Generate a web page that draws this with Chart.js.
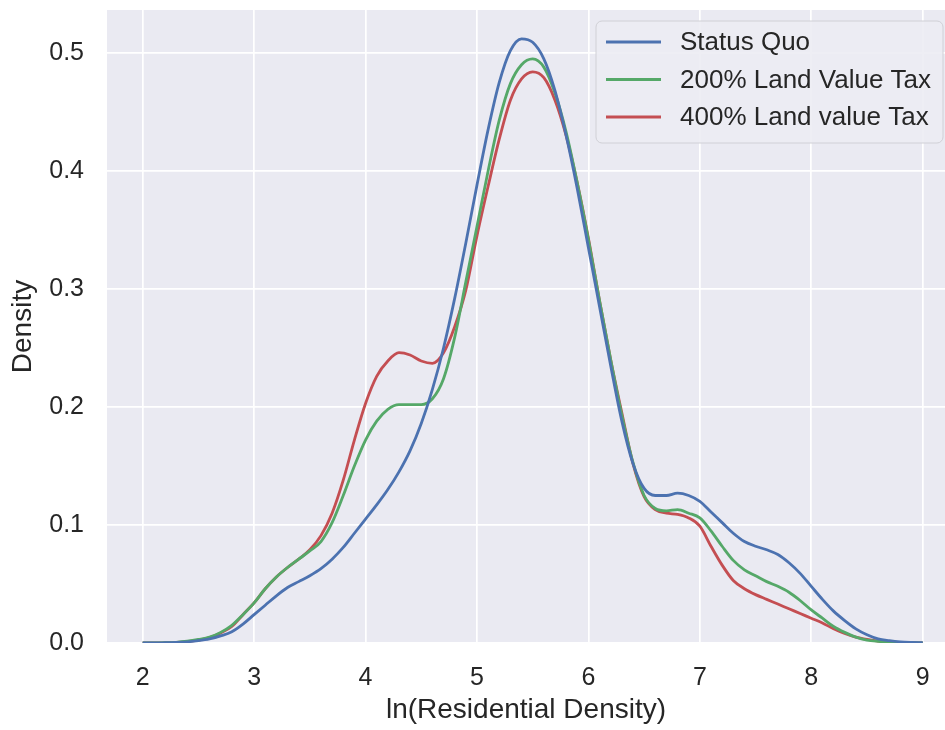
<!DOCTYPE html>
<html lang="en">
<head>
    <meta charset="UTF-8">
    <title>Residential Density KDE</title>
    <script src="https://cdn.jsdelivr.net/npm/chart.js"></script>
    <style>
        html, body { margin: 0; padding: 0; background: #ffffff; }
        canvas { display: block; }
    </style>
</head>
<body>
    <canvas id="myChart" width="945" height="730"></canvas>

    <script>
        const xValues = [2.0, 2.1, 2.2, 2.3, 2.4, 2.5, 2.6, 2.7, 2.8, 2.9,
                         3.0, 3.1, 3.2, 3.3, 3.4, 3.5, 3.6, 3.7, 3.8, 3.9,
                         4.0, 4.1, 4.2, 4.3, 4.4, 4.5, 4.6, 4.7, 4.8, 4.9,
                         5.0, 5.1, 5.2, 5.3, 5.4, 5.5, 5.6, 5.7, 5.8, 5.9,
                         6.0, 6.1, 6.2, 6.3, 6.4, 6.5, 6.6, 6.7, 6.8, 6.9,
                         7.0, 7.1, 7.2, 7.3, 7.4, 7.5, 7.6, 7.7, 7.8, 7.9,
                         8.0, 8.1, 8.2, 8.3, 8.4, 8.5, 8.6, 8.7, 8.8, 8.9, 9.0];

        const statusQuo = [0, 0, 0.0002, 0.0005, 0.001, 0.002, 0.0035, 0.006, 0.0095, 0.016,
                           0.024, 0.032, 0.040, 0.047, 0.052, 0.057, 0.063, 0.071, 0.081, 0.093,
                           0.105, 0.117, 0.130, 0.145, 0.163, 0.186, 0.215, 0.250, 0.292, 0.339,
                           0.388, 0.435, 0.475, 0.502, 0.512, 0.509, 0.495, 0.468, 0.430, 0.385,
                           0.335, 0.285, 0.235, 0.188, 0.152, 0.131, 0.125, 0.125, 0.127, 0.125,
                           0.120, 0.111, 0.102, 0.093, 0.086, 0.082, 0.079, 0.075, 0.068, 0.059,
                           0.048, 0.037, 0.027, 0.019, 0.012, 0.007, 0.0035, 0.002, 0.001, 0.0005, 0.0002];

        const lvt200 = [0, 0, 0.0002, 0.0006, 0.0015, 0.003, 0.005, 0.009, 0.015, 0.024,
                        0.034, 0.046, 0.056, 0.064, 0.071, 0.078, 0.086, 0.102, 0.125, 0.150,
                        0.172, 0.188, 0.198, 0.202, 0.202, 0.202, 0.207, 0.224, 0.259, 0.306,
                        0.353, 0.400, 0.443, 0.474, 0.490, 0.495, 0.488, 0.466, 0.433, 0.390,
                        0.342, 0.290, 0.240, 0.193, 0.153, 0.125, 0.114, 0.112, 0.113, 0.110,
                        0.106, 0.095, 0.082, 0.070, 0.062, 0.057, 0.052, 0.048, 0.043, 0.036,
                        0.028, 0.021, 0.014, 0.009, 0.005, 0.0025, 0.0015, 0.001, 0.0005, 0.0002, 0];

        const lvt400 = [0, 0, 0.0002, 0.0005, 0.0012, 0.0025, 0.0045, 0.0085, 0.014, 0.024,
                        0.034, 0.046, 0.056, 0.064, 0.071, 0.079, 0.091, 0.110, 0.138, 0.172,
                        0.203, 0.226, 0.239, 0.246, 0.244, 0.239, 0.237, 0.246, 0.268, 0.299,
                        0.345, 0.387, 0.427, 0.460, 0.478, 0.484, 0.479, 0.460, 0.430, 0.390,
                        0.343, 0.290, 0.240, 0.195, 0.152, 0.124, 0.113, 0.110, 0.109, 0.106,
                        0.099, 0.082, 0.066, 0.053, 0.046, 0.041, 0.037, 0.033, 0.029, 0.025,
                        0.021, 0.017, 0.012, 0.008, 0.005, 0.003, 0.0015, 0.0008, 0.0004, 0.0002, 0];

        const seriesNames = ['Status Quo', '200% Land Value Tax', '400% Land value Tax'];
        const seriesColors = ['#4C72B0', '#55A868', '#C44E52'];
        const xTicks = [2, 3, 4, 5, 6, 7, 8, 9];
        const yTicks = [0, 0.1, 0.2, 0.3, 0.4, 0.5];

        const FONT = '"Liberation Sans", Arial, sans-serif';
        const TEXT = '#262626';

        // grey plot background (seaborn darkgrid look)
        const plotBackground = {
            id: 'plotBackground',
            beforeDraw(chart) {
                const { ctx, chartArea: a } = chart;
                ctx.save();
                ctx.fillStyle = '#EAEAF2';
                ctx.fillRect(a.left, a.top, a.right - a.left, a.bottom - a.top);
                ctx.restore();
            }
        };

        // matplotlib-like legend box in the upper right corner
        const boxLegend = {
            id: 'boxLegend',
            afterDraw(chart) {
                const ctx = chart.ctx;
                const a = chart.chartArea;
                const x0 = a.right - 349, y0 = a.top + 11, w = 347, h = 122;
                ctx.save();
                ctx.beginPath();
                ctx.roundRect(x0, y0, w, h, 6);
                ctx.fillStyle = 'rgba(236, 236, 243, 0.9)';
                ctx.fill();
                ctx.lineWidth = 1;
                ctx.strokeStyle = '#D0D0D6';
                ctx.stroke();
                ctx.font = '26px ' + FONT;
                ctx.textBaseline = 'middle';
                chart.data.datasets.forEach((ds, i) => {
                    const y = y0 + 21 + i * 37.5;
                    ctx.beginPath();
                    ctx.moveTo(x0 + 10, y);
                    ctx.lineTo(x0 + 65, y);
                    ctx.strokeStyle = ds.borderColor;
                    ctx.lineWidth = 2.8;
                    ctx.stroke();
                    ctx.fillStyle = TEXT;
                    ctx.fillText(ds.label, x0 + 84, y + 1);
                });
                ctx.restore();
            }
        };

        const datasets = [statusQuo, lvt200, lvt400].map((vals, i) => ({
            label: seriesNames[i],
            data: xValues.map((x, j) => ({ x: x, y: vals[j] })),
            borderColor: seriesColors[i],
            borderWidth: 2.8,
            pointRadius: 0,
            fill: false,
            cubicInterpolationMode: 'monotone'
        }));

        const ctx = document.getElementById('myChart').getContext('2d');
        new Chart(ctx, {
            type: 'line',
            data: { datasets: datasets },
            options: {
                responsive: false,
                animation: false,
                layout: { padding: { top: 10, right: 0, left: 0, bottom: 0 } },
                plugins: {
                    legend: { display: false },
                    tooltip: { enabled: false }
                },
                scales: {
                    x: {
                        type: 'linear',
                        min: 1.68,
                        max: 9.2,
                        afterBuildTicks: s => { s.ticks = xTicks.map(v => ({ value: v })); },
                        afterFit: s => {
                            s.height = 87;
                            s.paddingLeft = 0;
                            s.paddingRight = 0;
                        },
                        grid: { color: '#FFFFFF', lineWidth: 1.7, drawTicks: false },
                        border: { display: false },
                        ticks: { color: TEXT, padding: 20, font: { family: FONT, size: 25 } },
                        title: {
                            display: true,
                            text: 'ln(Residential Density)',
                            color: TEXT,
                            padding: { top: 0, bottom: 3 },
                            font: { family: FONT, size: 28, lineHeight: 1.2 }
                        }
                    },
                    y: {
                        min: 0,
                        max: 0.5364,
                        afterBuildTicks: s => { s.ticks = yTicks.map(v => ({ value: v })); },
                        afterFit: s => {
                            s.width = 107;
                            s.paddingTop = 0;
                            s.paddingBottom = 0;
                        },
                        grid: { color: '#FFFFFF', lineWidth: 1.7, drawTicks: false },
                        border: { display: false },
                        ticks: {
                            color: TEXT,
                            padding: 23,
                            font: { family: FONT, size: 25 },
                            callback: v => v.toFixed(1)
                        },
                        title: {
                            display: true,
                            text: 'Density',
                            color: TEXT,
                            padding: { top: 6, bottom: 0 },
                            font: { family: FONT, size: 28, lineHeight: 1.2 }
                        }
                    }
                }
            },
            plugins: [plotBackground, boxLegend]
        });
    </script>
</body>
</html>
